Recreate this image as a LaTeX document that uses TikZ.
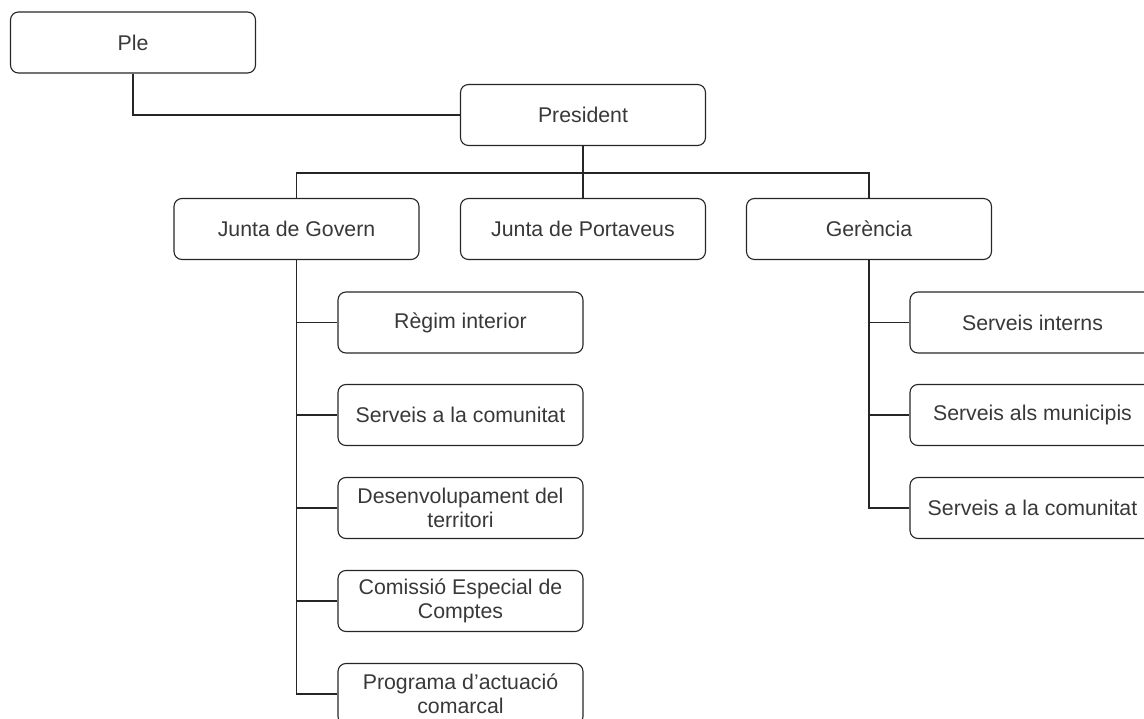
\documentclass[tikz,border=0pt]{standalone}
\usepackage{fontspec}
\setmainfont{Liberation Sans}
\begin{document}
\begin{tikzpicture}[x=1pt,y=-1pt,
  box/.style={draw=black!85, line width=1.1pt, rounded corners=8pt, minimum width=245pt, minimum height=61pt, inner sep=2pt, align=center, text=black!78, font=\fontsize{21.3}{24}\selectfont},
  conn/.style={draw=black!85, line width=1.1pt}]
\useasboundingbox (0,0) rectangle (1144,719);
\clip (0,0) rectangle (1144,719);
\node[box] (ple) at (133,42.5) {Ple};
\node[box] (pres) at (583,115) {President};
\node[box] (jg) at (296.5,229) {Junta de Govern};
\node[box] (jp) at (583,229) {Junta de Portaveus};
\node[box] (ger) at (869,229) {Gerència};
\node[box] (c1) at (460.5,322.5) {Règim interior};
\node[box] (c2) at (460.5,415) {Serveis a la comunitat};
\node[box] (c3) at (460.5,508) {Desenvolupament del\\territori};
\node[box] (c4) at (460.5,601) {Comissió Especial de\\Comptes};
\node[box] (c5) at (460.5,694) {Programa d’actuació\\comarcal};
\node[box] (r1) at (1032.5,322.5) {Serveis interns};
\node[box] (r2) at (1032.5,415) {Serveis als municipis};
\node[box] (r3) at (1032.5,508) {Serveis a la comunitat};
\coordinate (bus) at (583,173);
\draw[conn] (ple.south) |- (pres.west);
\draw[conn] (pres.south) -- (bus);
\draw[conn] (jg.north) |- (bus);
\draw[conn] (ger.north) |- (bus);
\draw[conn] (jp.north) -- (bus);
\foreach \c in {c1,c2,c3,c4,c5} \draw[conn] (jg.south) |- (\c.west);
\foreach \r in {r1,r2,r3} \draw[conn] (ger.south) |- (\r.west);
\end{tikzpicture}
\end{document}
